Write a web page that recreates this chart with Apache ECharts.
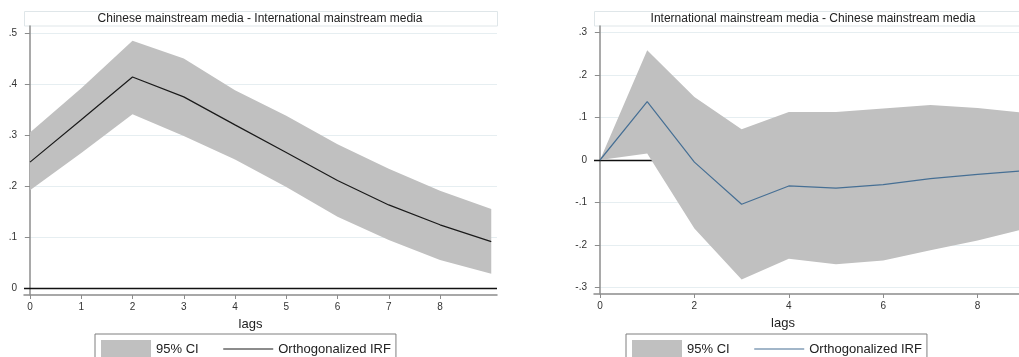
<!DOCTYPE html>
<html>
<head>
<meta charset="utf-8">
<script src="https://cdn.jsdelivr.net/npm/echarts@6/dist/echarts.min.js"></script>
<style>
html,body{margin:0;padding:0;background:#fff;}
#c{width:1019px;height:357px;}
</style>
</head>
<body>
<div id="c"></div>
<script>
const lags = [0, 1, 2, 3, 4, 5, 6, 7, 8, 9];

const leftTitle = 'Chinese mainstream media - International mainstream media';
const leftIRF   = [0.247, 0.330, 0.414, 0.375, 0.320, 0.266, 0.211, 0.163, 0.124, 0.091];
const leftLower = [0.192, 0.265, 0.341, 0.298, 0.252, 0.198, 0.140, 0.094, 0.055, 0.028];
const leftUpper = [0.305, 0.392, 0.485, 0.450, 0.388, 0.338, 0.282, 0.234, 0.191, 0.155];

const rightTitle = 'International mainstream media - Chinese mainstream media';
const rightIRF   = [0, 0.137, -0.005, -0.104, -0.061, -0.066, -0.058, -0.044, -0.034, -0.025];
const rightLower = [0, 0.015, -0.161, -0.281, -0.232, -0.245, -0.236, -0.212, -0.189, -0.162];
const rightUpper = [0, 0.258, 0.148, 0.072, 0.113, 0.113, 0.121, 0.129, 0.122, 0.111];

const leftYTicks  = [0, 0.1, 0.2, 0.3, 0.4, 0.5];
const rightYTicks = [-0.3, -0.2, -0.1, 0, 0.1, 0.2, 0.3];
const leftXTicks  = [0, 1, 2, 3, 4, 5, 6, 7, 8];
const rightXTicks = [0, 2, 4, 6, 8];

const xName = 'lags';
const ciName = '95% CI';
const irfName = 'Orthogonalized IRF';

const BAND = '#c0c0c0';
const LEFT_LINE = '#1a1a1a';
const RIGHT_LINE = '#466f94';
const AXIS = '#8c8c8c';
const GRIDC = '#e6eef1';
const FONT = 'Liberation Sans, Arial, sans-serif';

function pairs(v) { return lags.map((l, i) => [l, v[i]]); }
function fmtY(v) {
  if (Math.abs(v) < 1e-9) return '0';
  const s = String(Math.round(Math.abs(v) * 10) / 10).replace(/^0/, '');
  return (v < 0 ? '-' : '') + s;
}

function yAxis(idx, min, max, ticks) {
  return {
    type: 'value', gridIndex: idx, min: min, max: max,
    axisLine: { show: true, lineStyle: { color: AXIS, width: 1.5 } },
    axisTick: { show: true, length: 5, customValues: ticks, lineStyle: { color: AXIS } },
    axisLabel: { customValues: ticks, formatter: fmtY, fontSize: 10, color: '#333', margin: 7, fontFamily: FONT },
    splitLine: { show: true, lineStyle: { color: GRIDC, width: 1 } }
  };
}
function xAxis(idx, min, max, ticks, padRight) {
  return {
    type: 'value', gridIndex: idx, min: min, max: max,
    name: xName, nameLocation: 'middle', nameGap: 23,
    nameTextStyle: { fontSize: 13, color: '#222', fontFamily: FONT, padding: [0, padRight, 0, 0] },
    axisLine: { show: true, onZero: false, lineStyle: { color: AXIS, width: 1.5 } },
    axisTick: { show: true, length: 4, customValues: ticks, lineStyle: { color: AXIS } },
    axisLabel: { customValues: ticks, fontSize: 10, color: '#333', margin: 7, fontFamily: FONT },
    splitLine: { show: false }
  };
}

function bandSeries(idx, lower, upper) {
  return {
    name: ciName, type: 'custom', xAxisIndex: idx, yAxisIndex: idx,
    data: lags.map((l, i) => [l, lower[i], upper[i]]),
    encode: { x: 0, y: [1, 2] },
    itemStyle: { color: BAND },
    z: 2, silent: true, clip: true,
    renderItem: function (params, api) {
      if (params.dataIndex !== 0) return null;
      const pts = [];
      for (let i = 0; i < lags.length; i++) pts.push(api.coord([lags[i], upper[i]]));
      for (let i = lags.length - 1; i >= 0; i--) pts.push(api.coord([lags[i], lower[i]]));
      return { type: 'polygon', shape: { points: pts }, style: { fill: BAND } };
    },
    markLine: {
      silent: true, symbol: 'none', z: 1, label: { show: false },
      lineStyle: { color: '#111', width: 1.3, type: 'solid' },
      data: [{ yAxis: 0 }], animation: false
    }
  };
}

const legendBase = {
  top: 334, itemWidth: 50, itemHeight: 18, itemGap: 24,
  borderColor: '#7f7f7f', borderWidth: 1, padding: [6, 5, 6, 6], borderRadius: 0,
  textStyle: { fontSize: 13, color: '#222', fontFamily: FONT },
  selectedMode: false
};

const chart = echarts.init(document.getElementById('c'), null, { renderer: 'canvas' });
chart.setOption({
  animation: false,
  backgroundColor: '#fff',
  textStyle: { fontFamily: FONT },
  title: [
    { text: leftTitle, left: 260, top: 13, textAlign: 'center', padding: 0,
      textStyle: { fontSize: 12, fontWeight: 'normal', color: '#222', fontFamily: FONT } },
    { text: rightTitle, left: 813, top: 13, textAlign: 'center', padding: 0,
      textStyle: { fontSize: 12, fontWeight: 'normal', color: '#222', fontFamily: FONT } }
  ],
  graphic: [
    { type: 'rect', z: -1, shape: { x: 24.5, y: 11.5, width: 473, height: 14.5 },
      style: { fill: '#fff', stroke: '#dfe6e9', lineWidth: 1 } },
    { type: 'rect', z: -1, shape: { x: 594.5, y: 11.5, width: 460, height: 14.5 },
      style: { fill: '#fff', stroke: '#dfe6e9', lineWidth: 1 } }
  ],
  grid: [
    { left: 24, top: 26, width: 473, height: 269 },
    { left: 594, top: 26, right: 0, height: 268 }
  ],
  xAxis: [
    xAxis(0, -0.117, 9.112, leftXTicks, 20),
    xAxis(1, -0.127, 8.877, rightXTicks, 47)
  ],
  yAxis: [
    yAxis(0, -0.0137, 0.514, leftYTicks),
    yAxis(1, -0.315, 0.315, rightYTicks)
  ],
  legend: [
    Object.assign({}, legendBase, { left: 95, data: [
      { name: ciName, icon: 'rect', itemStyle: { color: BAND } },
      { name: irfName, lineStyle: { color: LEFT_LINE, width: 1.2 }, itemStyle: { opacity: 0 } }
    ] }),
    Object.assign({}, legendBase, { left: 626, data: [
      { name: ciName, icon: 'rect', itemStyle: { color: BAND } },
      { name: irfName, lineStyle: { color: RIGHT_LINE, width: 1.2 }, itemStyle: { opacity: 0 } }
    ] })
  ],
  series: [
    bandSeries(0, leftLower, leftUpper),
    { name: irfName, type: 'line', xAxisIndex: 0, yAxisIndex: 0, data: pairs(leftIRF),
      symbol: 'none', lineStyle: { color: LEFT_LINE, width: 1.2 }, itemStyle: { color: LEFT_LINE }, z: 3 },
    bandSeries(1, rightLower, rightUpper),
    { name: irfName, type: 'line', xAxisIndex: 1, yAxisIndex: 1, data: pairs(rightIRF),
      symbol: 'none', lineStyle: { color: RIGHT_LINE, width: 1.2 }, itemStyle: { color: RIGHT_LINE }, z: 3 }
  ]
});
</script>
</body>
</html>
